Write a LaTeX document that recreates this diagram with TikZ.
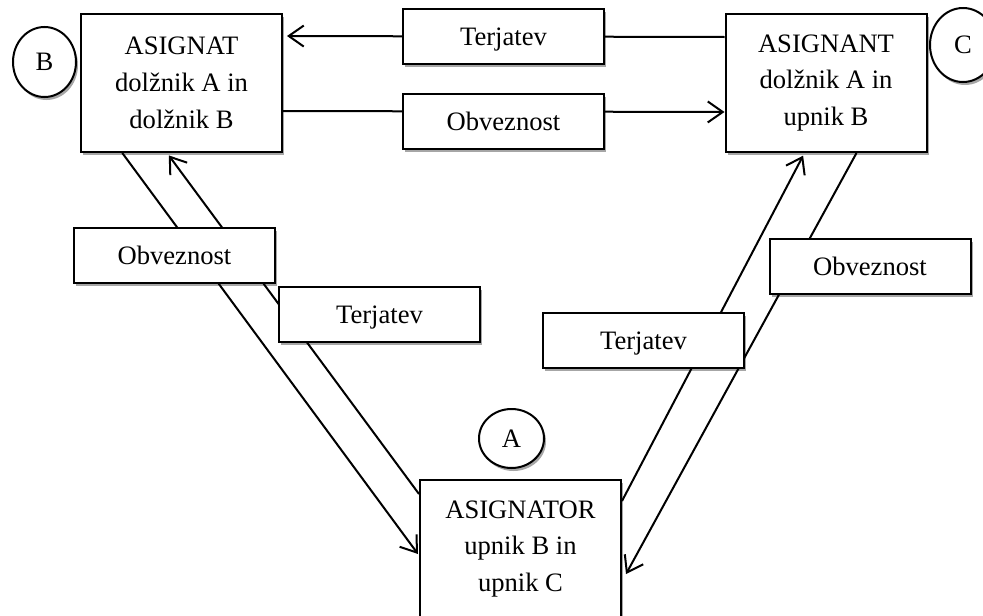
\documentclass[tikz,border=0pt]{standalone}
\usepackage{fontspec}
\setmainfont{Liberation Serif}
\usetikzlibrary{arrows.meta,shapes.geometric,shadows,calc}
\begin{document}
\begin{tikzpicture}[x=1pt,y=-1pt,
  every node/.style={font=\fontsize{26.6}{36.7}\selectfont},
  shade/.style={drop shadow={shadow xshift=2pt,shadow yshift=-3pt,fill=black,opacity=0.35}},
  party/.style={rectangle,draw,line width=2pt,fill=white,shade,
    minimum width=201pt,minimum height=138pt,inner sep=0pt,align=center},
  tag/.style={rectangle,draw,line width=2pt,fill=white,shade,
    minimum width=201pt,minimum height=55pt,inner sep=0pt,
    text height=17pt,text depth=0pt},
  role/.style={ellipse,draw,line width=2pt,fill=white,shade,inner sep=0pt},
  flow/.style={line width=2pt,-{Straight Barb[length=15pt,width=21pt]}}]

\path[use as bounding box] (0,0) rectangle (983,616);
\clip (0,0) rectangle (983,616);

% the three parties of the assignment
\node[party] (B) at (181.5,83) {ASIGNAT\\dolžnik A in\\dolžnik B};
\node[party] (C) at (826,83) {ASIGNANT\\dolžnik A in\\upnik B};
\node[party] (A) at (520.5,549) {ASIGNATOR\\upnik B in\\upnik C};

% role markers
\node[role,minimum width=63pt,minimum height=70pt] (rB) at (44.5,62) {B};
\node[role,minimum width=66pt,minimum height=74pt] (rC) at (963,45) {C};
\node[role,minimum width=65pt,minimum height=59pt] (rA) at (511.5,438.5) {A};

% flows between the parties
\draw[flow,shorten >=4pt] ($(C.north west)+(0,24)$) -- ($(B.north east)+(0,23)$);
\draw[flow] ($(B.north east)+(0,98)$) -- ($(C.north west)+(0,99)$);

\draw[flow] ($(B.south west)+(42.3,0)$) -- ($(A.north west)+(-1,75)$);
\draw[flow,shorten >=3pt] ($(A.north west)+(0,15)$) -- ($(B.south west)+(87,0)$);

\draw[flow,shorten >=3pt] ($(A.north east)+(0,22)$) -- ($(C.south west)+(80,0)$);
\draw[flow] ($(C.south west)+(132,0)$) -- ($(A.north east)+(4,95)$);

% labels on the flows
\node[tag] (t1) at (503.5,36.5) {Terjatev};
\node[tag] (o1) at (503.5,121.5) {Obveznost};
\node[tag] (o2) at (174.5,255.5) {Obveznost};
\node[tag] (t2) at (379.5,314.5) {Terjatev};
\node[tag] (o3) at (870,266.5) {Obveznost};
\node[tag] (t3) at (643.5,340.5) {Terjatev};
\end{tikzpicture}
\end{document}
